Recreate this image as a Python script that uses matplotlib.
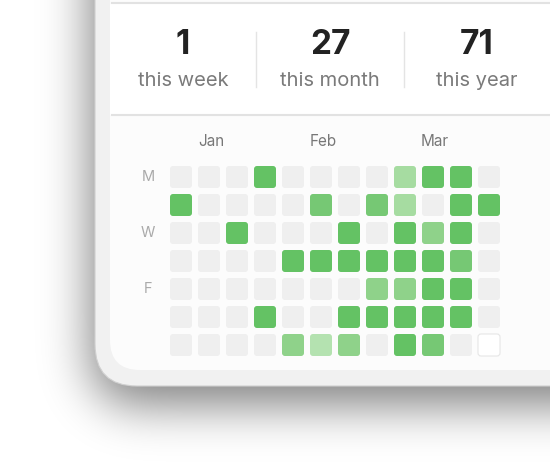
import numpy as np
import matplotlib
matplotlib.use("Agg")
import matplotlib.pyplot as plt
from matplotlib.patches import FancyBboxPatch

stat_values = ["1", "27", "71"]
stat_labels = ["this week", "this month", "this year"]
months = ["Jan", "Feb", "Mar"]
month_cols = [1, 5, 9]
day_labels = ["M", "W", "F"]
day_rows = [0, 2, 4]
# levels: 0 empty, 1..5 green intensity, -1 future
levels = [
    [0, 0, 0, 5, 0, 0, 0, 0, 2, 5, 5, 0],
    [5, 0, 0, 0, 0, 4, 0, 4, 2, 0, 5, 5],
    [0, 0, 5, 0, 0, 0, 5, 0, 5, 3, 5, 0],
    [0, 0, 0, 0, 5, 5, 5, 5, 5, 5, 4, 0],
    [0, 0, 0, 0, 0, 0, 0, 3, 3, 5, 5, 0],
    [0, 0, 0, 5, 0, 0, 5, 5, 5, 5, 5, 0],
    [0, 0, 0, 0, 3, 1, 3, 0, 5, 4, 0, -1],
]
palette = {-1: "#ffffff", 0: "#efefef", 1: "#b4e2b0", 2: "#a6dca1",
           3: "#8fd28a", 4: "#76c874", 5: "#64c264"}

W, H = 550, 476
fig = plt.figure(figsize=(5.5, 4.76), dpi=100)
ax = fig.add_axes([0, 0, 1, 1])
ax.set_xlim(0, W); ax.set_ylim(H, 0); ax.axis("off")

# shadow
yy, xx = np.mgrid[0:H, 0:W]
def rr_mask(x0, y1, r, dx=0, dy=0):
    x = xx - dx; y = yy - dy
    m = (x >= x0) & (y <= y1)
    cx, cy = x0 + r, y1 - r
    corner = (x < cx) & (y > cy) & ((x - cx) ** 2 + (y - cy) ** 2 > r * r)
    return (m & ~corner).astype(float)
mask = rr_mask(95, 386, 42, dx=-4, dy=18)
def blur(a, s):
    k = np.exp(-np.arange(-3 * s, 3 * s + 1) ** 2 / (2 * s * s)); k /= k.sum()
    a = np.apply_along_axis(lambda v: np.convolve(v, k, mode="same"), 0, a)
    return np.apply_along_axis(lambda v: np.convolve(v, k, mode="same"), 1, a)
sh = blur(np.pad(mask, 80, mode="edge"), 24)[80:-80, 80:-80] * 0.5
img = np.ones((H, W, 4)); img[..., :3] = 0.0; img[..., 3] = sh
ax.imshow(img, extent=(0, W, H, 0), zorder=0)

# card frame and inner panel
ax.add_patch(FancyBboxPatch((95, -100), 600, 486, boxstyle="round,pad=0,rounding_size=42",
                            fc="#f1f1f1", ec="#d0d0d0", lw=0.8, zorder=1))
ax.add_patch(FancyBboxPatch((110, -100), 600, 470, boxstyle="round,pad=0,rounding_size=30",
                            fc="#fcfcfc", ec="none", zorder=2))
ax.add_patch(plt.Rectangle((110, 4), 500, 111, fc="#ffffff", ec="none", zorder=2))
ax.plot([112, 550], [3, 3], color="#e2e2e2", lw=1.5, zorder=3)
ax.plot([112, 550], [115, 115], color="#e2e2e2", lw=1.5, zorder=3)
for x in (256, 404):
    ax.plot([x, x], [32, 87], color="#e4e4e4", lw=1, zorder=3)

for cx, v, l in zip([183, 330, 477], stat_values, stat_labels):
    ax.text(cx, 45, v, ha="center", va="center", fontsize=24, fontweight="bold",
            color="#222222", family="Inter", zorder=4)
    ax.text(cx, 81, l, ha="center", va="center", fontsize=14.5, color="#7a7a7a",
            family="Inter", zorder=4)

x0, y0, step, size = 181, 177, 28, 22
for c, m in zip(month_cols, months):
    ax.text(x0 + c * step + 2, 142, m, ha="center", va="center", fontsize=11,
            color="#777777", family="Inter", zorder=4)
for r, d in zip(day_rows, day_labels):
    ax.text(148, y0 + r * step, d, ha="center", va="center", fontsize=10.5,
            color="#aaaaaa", family="Inter", zorder=4)
for r, row in enumerate(levels):
    for c, lv in enumerate(row):
        ax.add_patch(FancyBboxPatch((x0 + c * step - size / 2 + 3, y0 + r * step - size / 2 + 3),
                                    size - 6, size - 6, boxstyle="round,pad=3",
                                    fc=palette[lv], ec="#e6e6e6" if lv == -1 else "none",
                                    lw=0.8, zorder=4))
fig.savefig("out.png", dpi=100)
